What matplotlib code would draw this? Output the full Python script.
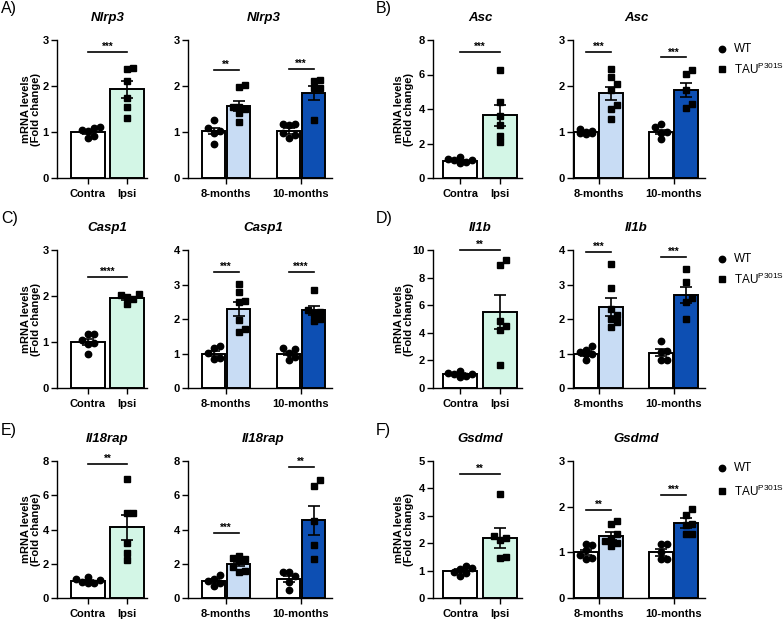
import numpy as np
import matplotlib
matplotlib.use('Agg')
import matplotlib.pyplot as plt
from matplotlib.lines import Line2D

plt.rcParams['font.family'] = ['Liberation Sans', 'DejaVu Sans']
plt.rcParams['mathtext.default'] = 'regular'

# order inside each gene: contra, ipsi, wt 8m, tau 8m, wt 10m, tau 10m
genes = ['Nlrp3', 'Asc', 'Casp1', 'Il1b', 'Il18rap', 'Gsdmd']
panel_letters = ['A)', 'B)', 'C)', 'D)', 'E)', 'F)']

nlrp3_pts = [[0.87, 1.05, 1.02, 1.10, 1.08, 0.92],
             [2.36, 2.40, 2.10, 1.74, 1.55, 1.31],
             [1.26, 1.09, 1.02, 0.98, 0.75],
             [2.02, 1.97, 1.55, 1.50, 1.55, 1.42, 1.22],
             [1.18, 1.18, 1.15, 0.86, 0.93, 0.98],
             [2.10, 2.14, 1.95, 1.95, 1.26]]
asc_pts = [[0.95, 1.08, 1.02, 1.05, 0.85, 1.22],
           [6.25, 4.40, 3.60, 3.10, 2.45, 2.10],
           [1.07, 1.02, 1.00, 0.98, 0.95, 0.97],
           [2.37, 2.19, 2.04, 1.92, 1.58, 1.51, 1.29],
           [1.18, 1.10, 1.00, 0.98, 0.84],
           [2.35, 2.27, 1.92, 1.53, 1.60]]
casp1_pts = [[1.18, 1.17, 1.05, 0.95, 0.97, 0.75],
             [1.83, 2.03, 1.97, 1.93, 2.04],
             [1.22, 1.15, 1.02, 0.85, 0.88],
             [3.01, 2.79, 2.53, 2.50, 1.97, 1.63, 1.72],
             [1.17, 1.14, 1.02, 0.82, 0.90],
             [2.84, 2.20, 2.25, 1.95, 2.01, 2.15]]
il1b_pts = [[1.25, 1.10, 1.00, 1.05, 0.85, 0.80],
            [9.27, 8.91, 4.48, 4.84, 4.19, 1.69],
            [1.09, 1.05, 1.21, 0.80, 1.00, 0.98],
            [3.59, 2.89, 2.30, 2.11, 2.01, 1.92, 1.77],
            [1.37, 1.08, 1.05, 0.82, 0.82],
            [3.44, 3.08, 2.62, 2.50, 1.99]]
il18rap_pts = [[1.25, 1.10, 1.05, 0.95, 0.90, 0.85],
               [6.95, 4.95, 4.95, 3.20, 2.60, 2.20],
               [1.32, 1.13, 1.00, 0.85, 0.70],
               [2.45, 2.35, 2.30, 2.20, 1.80, 1.50, 1.60],
               [1.52, 1.52, 1.30, 0.95, 0.45],
               [6.87, 6.54, 4.47, 3.07, 2.26]]
gsdmd_pts = [[0.79, 1.05, 1.10, 1.17, 0.92, 0.95],
             [3.81, 2.26, 2.20, 2.10, 1.46, 1.50],
             [1.19, 1.17, 1.05, 0.95, 0.85, 0.87],
             [1.61, 1.68, 1.40, 1.30, 1.14, 1.20, 1.25],
             [1.19, 1.19, 1.00, 0.85, 0.85],
             [1.94, 1.82, 1.63, 1.41, 1.41, 1.60]]

nlrp3_means = [1.00, 1.93, 1.02, 1.57, 1.02, 1.84]
asc_means = [0.99, 3.64, 1.00, 1.84, 1.00, 1.92]
casp1_means = [1.00, 1.95, 1.00, 2.28, 1.00, 2.25]
il1b_means = [1.00, 5.52, 1.00, 2.35, 1.02, 2.70]
il18rap_means = [0.99, 4.12, 1.00, 2.00, 1.10, 4.55]
gsdmd_means = [1.00, 2.18, 1.00, 1.36, 1.00, 1.64]

nlrp3_sems = [0.04, 0.18, 0.07, 0.11, 0.06, 0.15]
asc_sems = [0.04, 0.62, 0.02, 0.14, 0.05, 0.15]
casp1_sems = [0.06, 0.03, 0.07, 0.20, 0.05, 0.14]
il1b_sems = [0.07, 1.25, 0.06, 0.26, 0.10, 0.24]
il18rap_sems = [0.06, 0.75, 0.10, 0.12, 0.18, 0.85]
gsdmd_sems = [0.06, 0.36, 0.06, 0.08, 0.07, 0.11]

# significance: (left, 8m, 10m)
nlrp3_sig = ([2.74, 2.35, 2.38], ['***', '**', '***'])
asc_sig = ([7.33, 2.74, 2.62], ['***', '***', '***'])
casp1_sig = ([2.42, 3.37, 3.37], ['****', '***', '****'])
il1b_sig = ([10.0, 3.95, 3.80], ['**', '***', '***'])
il18rap_sig = ([7.84, 3.81, 7.65], ['**', '***', '**'])
gsdmd_sig = ([4.54, 1.92, 2.25], ['**', '**', '***'])

left_ymax = [3, 8, 3, 10, 8, 5]
left_ticks = [1, 2, 1, 2, 2, 1]
right_ymax = [3, 3, 4, 4, 8, 3]
right_ticks = [1, 1, 1, 1, 2, 1]

all_pts = [nlrp3_pts, asc_pts, casp1_pts, il1b_pts, il18rap_pts, gsdmd_pts]
all_means = [nlrp3_means, asc_means, casp1_means, il1b_means, il18rap_means, gsdmd_means]
all_sems = [nlrp3_sems, asc_sems, casp1_sems, il1b_sems, il18rap_sems, gsdmd_sems]
all_sig = [nlrp3_sig, asc_sig, casp1_sig, il1b_sig, il18rap_sig, gsdmd_sig]

MINT = '#d3f6e6'
LBLUE = '#c8dcf4'
DBLUE = '#0d4fb3'

W, H = 783, 620
fig = plt.figure(figsize=(W / 100, H / 100), dpi=100)

row_top = [40, 250, 461]
row_zero = [178, 388, 598]
legend_y = [(49, 69), (259, 279), (468, 491)]

# pixel geometry per column
geo = [
    dict(lx0=57, lx1=147, lc=88, lu=39, rx0=188, rx1=332, rc=213.5, ylab=31, letter_x=1),
    dict(lx0=433, lx1=522, lc=460, lu=40, rx0=573, rx1=705, rc=586, ylab=404, letter_x=376),
]


def make_ax(x0, x1, ytop, yzero):
    return fig.add_axes([x0 / W, 1 - yzero / H, (x1 - x0) / W, (yzero - ytop) / H])


def style(ax, ymax, step):
    for s in ['top', 'right']:
        ax.spines[s].set_visible(False)
    for s in ['left', 'bottom']:
        ax.spines[s].set_linewidth(1.0)
    ax.set_ylim(0, ymax)
    ax.set_yticks(np.arange(0, ymax + 0.001, step))
    ax.tick_params(direction='out', length=4, width=1.0, labelsize=8, pad=2)
    ax.tick_params(axis='x', pad=4)
    for lab in ax.get_yticklabels() + ax.get_xticklabels():
        lab.set_fontweight('bold')


def swarm(vals, ymax, axh_px, px_unit, maxhalf_px, d=6.0):
    # simple beeswarm in pixel space, points placed lowest value first
    v = np.asarray(vals, float)
    ypx = v * axh_px / ymax
    offs = np.zeros(len(v))
    placed = []
    for i in np.argsort(v):
        cands = [0.0]
        for m in range(1, 6):
            cands += [m * d, -m * d]
        best, best_gap = None, -1
        for c in cands:
            if abs(c) > maxhalf_px:
                continue
            gap = min([np.hypot(c - px, ypx[i] - py) for px, py in placed] + [99])
            if gap >= d:
                best = c
                break
            if gap > best_gap:
                best, best_gap = c, gap
        offs[i] = best
        placed.append((best, ypx[i]))
    return offs / px_unit


def draw_points(ax, x, vals, marker, ymax, axh, px_unit, maxhalf):
    offs = swarm(vals, ymax, axh, px_unit, maxhalf)
    ms = 4.6 if marker == 'o' else 4.0
    ax.plot(x + offs, vals, linestyle='none', marker=marker, ms=ms,
            color='black', zorder=4, clip_on=False)


def sig(ax, x1, x2, y, txt):
    ax.plot([x1, x2], [y, y], color='black', lw=1.2, clip_on=False, zorder=5)
    ax.text((x1 + x2) / 2, y, txt, ha='center', va='bottom', fontsize=7,
            fontweight='bold', clip_on=False)


for k, gene in enumerate(genes):
    row, col = k // 2, k % 2
    g = geo[col]
    yt, yz = row_top[row], row_zero[row]
    axh = yz - yt
    pts, means, sems = all_pts[k], all_means[k], all_sems[k]
    sig_y, sig_t = all_sig[k]

    # left panel: contra vs ipsi
    ax = make_ax(g['lx0'], g['lx1'], yt, yz)
    lu = g['lu']
    xl = np.array([0, 1])
    ax.bar(xl, means[:2], width=34 / lu, color=['white', MINT],
           edgecolor='black', linewidth=1.4, zorder=2)
    ax.errorbar(xl, means[:2], yerr=sems[:2], fmt='none', ecolor='black',
                elinewidth=1.2, capsize=4.5, capthick=1.2, zorder=5)
    draw_points(ax, 0, pts[0], 'o', left_ymax[k], axh, lu, 13)
    draw_points(ax, 1, pts[1], 's', left_ymax[k], axh, lu, 13)
    ax.set_xlim((g['lx0'] - g['lc']) / lu, (g['lx1'] - g['lc']) / lu)
    ax.set_xticks(xl)
    ax.set_xticklabels(['Contra', 'Ipsi'])
    style(ax, left_ymax[k], left_ticks[k])
    sig(ax, 0, 1, sig_y[0], sig_t[0])
    fig.text((g['lc'] + lu / 2) / W, 1 - (yt - 22) / H, gene,
             ha='center', va='center', fontsize=9.5, fontweight='bold', style='italic')
    fig.text(g['ylab'] / W, 1 - (yt + yz) / 2 / H, 'mRNA levels\n(Fold change)',
             ha='center', va='center', rotation=90, fontsize=8, fontweight='bold',
             linespacing=1.0)

    # right panel: ages
    ax = make_ax(g['rx0'], g['rx1'], yt, yz)
    ru = 25.0
    xr = np.array([0, 1, 3, 4])
    ax.bar(xr, means[2:], width=23.5 / ru, color=['white', LBLUE, 'white', DBLUE],
           edgecolor='black', linewidth=1.4, zorder=2)
    ax.errorbar(xr, means[2:], yerr=sems[2:], fmt='none', ecolor='black',
                elinewidth=1.2, capsize=4.5, capthick=1.2, zorder=5)
    for j, x in enumerate(xr):
        draw_points(ax, x, pts[2 + j], 'o' if j % 2 == 0 else 's',
                    right_ymax[k], axh, ru, 9)
    ax.set_xlim((g['rx0'] - g['rc']) / ru, (g['rx1'] - g['rc']) / ru)
    ax.set_xticks([0.5, 3.5])
    ax.set_xticklabels(['8-months', '10-months'])
    style(ax, right_ymax[k], right_ticks[k])
    sig(ax, 0, 1, sig_y[1], sig_t[1])
    sig(ax, 3, 4, sig_y[2], sig_t[2])
    fig.text((g['rc'] + 2 * ru) / W, 1 - (yt - 22) / H, gene,
             ha='center', va='center', fontsize=9.5, fontweight='bold', style='italic')

    # panel letter
    fig.text(g['letter_x'] / W, 1 - (yt - 31) / H, panel_letters[k],
             ha='left', va='center', fontsize=11.5)

    # legend
    if col == 1:
        ly1, ly2 = legend_y[row]
        fig.add_artist(Line2D([722 / W], [1 - ly1 / H], marker='o', ms=4.6,
                              color='black', linestyle='none'))
        fig.add_artist(Line2D([722 / W], [1 - ly2 / H], marker='s', ms=4.0,
                              color='black', linestyle='none'))
        fig.text(734 / W, 1 - ly1 / H, 'WT', ha='left', va='center', fontsize=8.5)
        fig.text(734 / W, 1 - ly2 / H, r'TAU$^{P301S}$', ha='left', va='center',
                 fontsize=8.5)

fig.savefig('out.png', dpi=100)
